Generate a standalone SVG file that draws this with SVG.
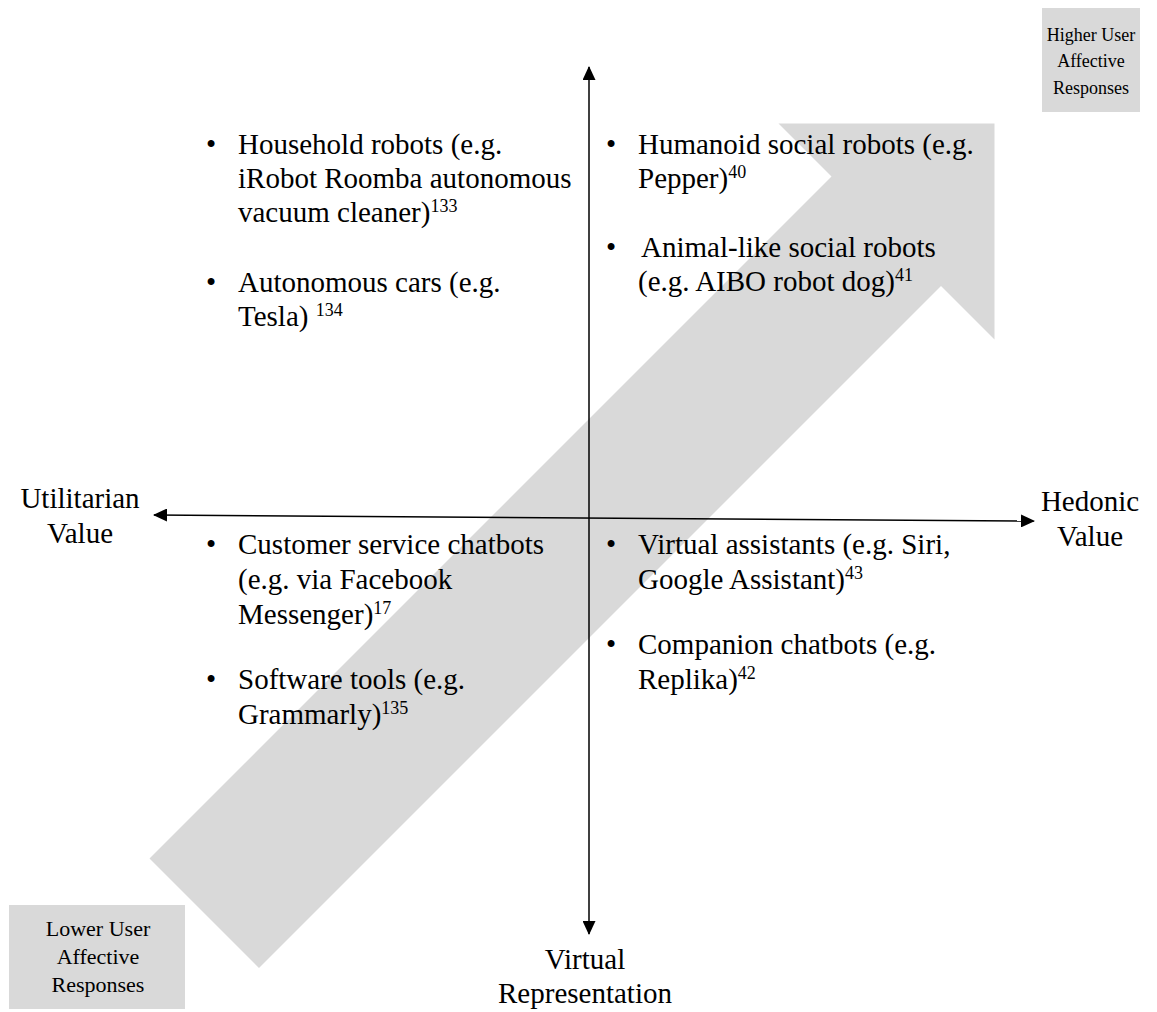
<svg xmlns="http://www.w3.org/2000/svg" width="1157" height="1012" viewBox="0 0 1157 1012">
<defs>
<marker id="ah" viewBox="0 0 14 13" refX="13" refY="6.5" markerWidth="14" markerHeight="13" markerUnits="userSpaceOnUse" orient="auto-start-reverse">
<path d="M0,0 L14,6.5 L0,13 Z" fill="#000"/>
</marker>
<style>
.t{font-family:"Liberation Serif","Times New Roman",serif;font-size:29px;fill:#000}
.s{font-size:18px}
.b{font-family:"Liberation Serif","Times New Roman",serif;font-size:22px;fill:#000;text-anchor:middle}
.b2{font-size:18px}
.c{text-anchor:middle}
.ax{stroke:#000;stroke-width:1.5;fill:none}
.box{fill:#d9d9d9}
</style>
</defs>
<rect width="1157" height="1012" fill="#fff"/>
<g id="big-arrow">
<polygon points="149.5,858.5 831.5,176.5 778.5,123.5 994.5,123.5 994.5,339.5 941,286 259,968" fill="#d9d9d9"/>
</g>
<g id="connectors">
<line class="ax" x1="589" y1="934" x2="589" y2="67" marker-start="url(#ah)" marker-end="url(#ah)"/>
<line class="ax" x1="154" y1="515" x2="1034" y2="521" marker-start="url(#ah)" marker-end="url(#ah)"/>
</g>
<g id="higher-box">
<rect class="box" x="1042" y="8" width="98" height="104"/>
<text class="b b2" x="1091" y="41">Higher User</text>
<text class="b b2" x="1091" y="67">Affective</text>
<text class="b b2" x="1091" y="94">Responses</text>
</g>
<g id="lower-box">
<rect class="box" x="9" y="905" width="176" height="104"/>
<text class="b" x="98" y="936">Lower User</text>
<text class="b" x="98" y="964">Affective</text>
<text class="b" x="98" y="992">Responses</text>
</g>
<g id="label-utilitarian">
<text class="t c" x="80" y="508">Utilitarian</text>
<text class="t c" x="80" y="543">Value</text>
</g>
<g id="label-hedonic">
<text class="t c" x="1090" y="511">Hedonic</text>
<text class="t c" x="1090" y="546">Value</text>
</g>
<g id="label-virtual">
<text class="t c" x="585" y="969">Virtual</text>
<text class="t c" x="585" y="1003">Representation</text>
</g>
<g id="q-top-left">
<text class="t" x="206" y="154">•</text>
<text class="t" x="238" y="154">Household robots (e.g.</text>
<text class="t" x="238" y="188">iRobot Roomba autonomous</text>
<text class="t" x="238" y="222">vacuum cleaner)<tspan class="s" dy="-10">133</tspan></text>
<text class="t" x="206" y="292">•</text>
<text class="t" x="238" y="292">Autonomous cars (e.g.</text>
<text class="t" x="238" y="326">Tesla) <tspan class="s" dy="-10">134</tspan></text>
</g>
<g id="q-top-right">
<text class="t" x="606" y="154">•</text>
<text class="t" x="638" y="154">Humanoid social robots (e.g.</text>
<text class="t" x="638" y="188">Pepper)<tspan class="s" dy="-10">40</tspan></text>
<text class="t" x="606" y="257">•</text>
<text class="t" x="641" y="257">Animal-like social robots</text>
<text class="t" x="638" y="291">(e.g. AIBO robot dog)<tspan class="s" dy="-10">41</tspan></text>
</g>
<g id="q-bottom-left">
<text class="t" x="206" y="554">•</text>
<text class="t" x="238" y="554">Customer service chatbots</text>
<text class="t" x="238" y="589">(e.g. via Facebook</text>
<text class="t" x="238" y="624">Messenger)<tspan class="s" dy="-10">17</tspan></text>
<text class="t" x="206" y="689">•</text>
<text class="t" x="238" y="689">Software tools (e.g.</text>
<text class="t" x="238" y="724">Grammarly)<tspan class="s" dy="-10">135</tspan></text>
</g>
<g id="q-bottom-right">
<text class="t" x="606" y="554">•</text>
<text class="t" x="638" y="554">Virtual assistants (e.g. Siri,</text>
<text class="t" x="638" y="589">Google Assistant)<tspan class="s" dy="-10">43</tspan></text>
<text class="t" x="606" y="654">•</text>
<text class="t" x="638" y="654">Companion chatbots (e.g.</text>
<text class="t" x="638" y="689">Replika)<tspan class="s" dy="-10">42</tspan></text>
</g>
</svg>
